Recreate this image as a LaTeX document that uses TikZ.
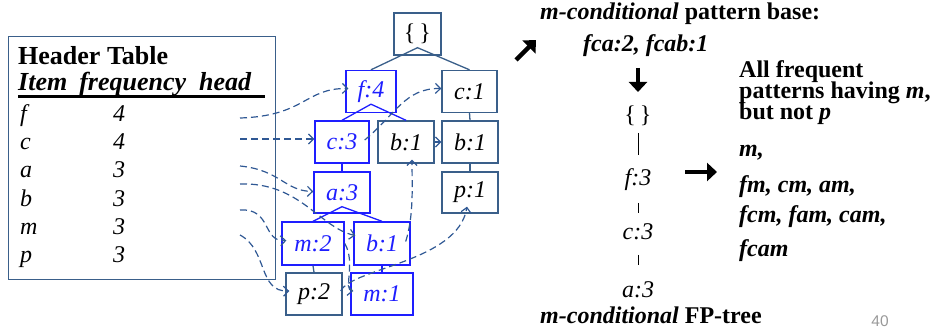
\documentclass[tikz,border=0pt]{standalone}
\usepackage{fontspec}
\setmainfont{Liberation Serif}
\newfontfamily\pgnumfont{Liberation Sans}
\usetikzlibrary{arrows.meta,calc}
\definecolor{slate}{RGB}{58,95,138}
\definecolor{lnk}{RGB}{47,88,148}
\definecolor{bblue}{RGB}{30,30,255}
\begin{document}
\begin{tikzpicture}[x=1pt,y=-1pt,
 box/.style={draw=slate, line width=1.4pt, minimum height=42pt, inner sep=0pt, text=black, font=\fontsize{24}{26}\selectfont\itshape},
 bbox/.style={box, draw=bblue, text=bblue},
 tedge/.style={draw=slate, line width=1.3pt},
 bedge/.style={draw=bblue, line width=1.3pt},
 lnkarrow/.style={draw=lnk, line width=1.2pt, dash pattern=on 7pt off 4pt, -{Straight Barb[length=5pt,width=10pt]}},
 txt/.style={inner sep=0pt, anchor=base west, font=\fontsize{24}{26}\selectfont},
 ctxt/.style={inner sep=0pt, anchor=base, font=\fontsize{24}{26}\selectfont},
 bigarrow/.style={line width=4.5pt, -{Triangle[length=10pt,width=18pt]}}
]
\useasboundingbox (0,0) rectangle (936,328);

% ---------- header table ----------
\node[draw=slate, line width=1.4pt, minimum width=267pt, minimum height=243pt, anchor=north west, inner sep=0pt] (htab) at (8,36) {};
\node[txt, font=\fontsize{26}{28}\selectfont\bfseries] (htitle) at (18,65) {Header Table};
\node[txt, font=\fontsize{26}{28}\selectfont\bfseries\itshape] (hcols) at (18,91) {Item\hspace{12pt}frequency\hspace{13pt}head};
\draw[line width=3pt] ($(hcols.base west)+(0,5.5)$) -- ++(247,0);

\foreach \nm/\it/\fr/\yy in {rf/f/4/122, rc/c/4/150, ra/a/3/178, rb/b/3/207, rm/m/3/235, rp/p/3/263}{
  \node[txt, font=\fontsize{24}{26}\selectfont\itshape] (\nm) at (20,\yy) {\it};
  \node[txt, font=\fontsize{24}{26}\selectfont\itshape] (\nm n) at (113,\yy) {\fr};
}
\coordinate (hf) at (240,118);
\coordinate (hc) at (240,139);
\coordinate (ha) at (240,166);
\coordinate (hb) at (240,184);
\coordinate (hm) at (240,210);
\coordinate (hp) at (240,235);

% ---------- FP tree ----------
\node[box, minimum width=47pt, font=\fontsize{24}{26}\selectfont\upshape] (root) at (417.5,34) {\{\,\}};
\node[bbox, minimum width=50pt] (f4) at (371,91.5) {f:4};
\node[box, minimum width=55pt] (c1) at (469.5,91.5) {c:1};
\node[bbox, minimum width=54pt] (c3) at (342,142) {c:3};
\node[box, minimum width=56pt] (b1m) at (406,142) {b:1};
\node[box, minimum width=56pt] (b1r) at (470,142) {b:1};
\node[bbox, minimum width=56pt, minimum height=41pt] (a3) at (342,192.5) {a:3};
\node[box, minimum width=56pt, minimum height=41pt] (p1) at (470,192.5) {p:1};
\node[bbox, minimum width=62pt, minimum height=43pt] (m2) at (313,243.5) {m:2};
\node[bbox, minimum width=56pt, minimum height=43pt] (b1l) at (382,243.5) {b:1};
\node[box, minimum width=56pt] (p2) at (314,294) {p:2};
\node[bbox, minimum width=62pt] (m1) at (382,294) {m:1};

\coordinate (rootap) at ($(root.south)+(0,-8)$);
\draw[tedge] (f4.north) -- (rootap) -- (c1.north);
\coordinate (f4ap) at ($(f4.south)+(0,-9)$);
\draw[bedge] (c3.north) -- (f4ap);
\draw[bedge] (f4ap) -- (b1m.north);
\coordinate (a3ap) at ($(a3.south)+(0,-7)$);
\draw[bedge] (m2.north) -- (a3ap) -- (b1l.north);
\draw[bedge] (c3.south) -- (a3.north);
\draw[tedge] (c1.south) -- (b1r.north);
\draw[tedge] (b1r.south) -- (p1.north);
\draw[tedge] (m2.south) -- (p2.north);
\draw[bedge] (b1l.south) -- (m1.north);

% ---------- node links ----------
\draw[lnkarrow] (hf) .. controls (305,116) and (305,88) .. ($(f4.west)+(3,-3)$);
\draw[lnkarrow] (hc) -- (hc -| c3.west);
\draw[lnkarrow] (ha) .. controls (280,170) and (285,191) .. ($(a3.west)+(0,-1)$);
\draw[lnkarrow] (hb) .. controls (300,182) and (320,228) .. ($(b1l.west)+(2,-8)$);
\draw[lnkarrow] (hm) .. controls (272,208) and (262,242) .. ($(m2.west)+(5,-3)$);
\draw[lnkarrow] (hp) .. controls (268,250) and (258,292) .. ($(p2.west)+(4,-3)$);
\draw[lnkarrow] ($(c3.east)+(-5,-2)$) .. controls (395,115) and (405,88) .. ($(c1.west)+(0,-3)$);
\draw[lnkarrow] (b1m.east) -- (b1r.west);
\draw[lnkarrow] (m2.east) .. controls (356,262) and (343,290) .. ($(m1.west)+(3,-3)$);
\draw[lnkarrow] ($(b1l.east)+(-5,-2)$) .. controls (414,215) and (412,185) .. ($(b1m.south)+(6,-4)$);
\draw[lnkarrow] ($(p2.east)+(-2,-3)$) .. controls (352,268) and (458,262) .. ($(p1.south)+(-3,-7)$);

% ---------- conditional pattern base ----------
\draw[bigarrow] (516,60) -- (536,40);
\node[txt, font=\fontsize{24}{26}\selectfont\bfseries] (cpb) at (540,20) {\textit{m-conditional} pattern base:};
\node[txt, font=\fontsize{24}{26}\selectfont\bfseries\itshape] (cpbv) at (583,52) {fca:2, fcab:1};
\draw[bigarrow] (638,68) -- (638,92);

\node[ctxt] (cr) at (638,123) {\{\,\}};
\node[ctxt, font=\fontsize{24}{26}\selectfont\itshape] (cf) at (638,186) {f:3};
\node[ctxt, font=\fontsize{24}{26}\selectfont\itshape] (cc) at (638,240) {c:3};
\node[ctxt, font=\fontsize{24}{26}\selectfont\itshape] (ca) at (638,298) {a:3};
\draw[line width=1pt] ($(cr.base)+(0,10)$) -- ($(cr.base)+(0,32)$);
\draw[line width=1pt] ($(cf.base)+(0,17)$) -- ($(cf.base)+(0,27)$);
\draw[line width=1pt] ($(cc.base)+(0,15)$) -- ($(cc.base)+(0,25)$);
\node[txt, font=\fontsize{24}{26}\selectfont\bfseries] (cfp) at (540,323.5) {\textit{m-conditional} FP-tree};

\draw[bigarrow] (685,172) -- (717,172);

\node[txt, font=\fontsize{24}{26}\selectfont\bfseries] (al1) at (739,78) {All frequent};
\node[txt, font=\fontsize{24}{26}\selectfont\bfseries] (al2) at (739,99) {patterns having \textit{m},};
\node[txt, font=\fontsize{24}{26}\selectfont\bfseries] (al3) at (739,120) {but not \textit{p}};
\node[txt, font=\fontsize{24}{26}\selectfont\bfseries\itshape] (l1) at (739,157) {m,};
\node[txt, font=\fontsize{24}{26}\selectfont\bfseries\itshape] (l2) at (739,193) {fm, cm, am,};
\node[txt, font=\fontsize{24}{26}\selectfont\bfseries\itshape] (l3) at (739,223) {fcm, fam, cam,};
\node[txt, font=\fontsize{24}{26}\selectfont\bfseries\itshape] (l4) at (739,257) {fcam};

\node[inner sep=0pt, anchor=base, font=\pgnumfont\fontsize{15.5}{17}\selectfont, text=gray!80] (pg) at (880,326.5) {40};
\end{tikzpicture}
\end{document}
